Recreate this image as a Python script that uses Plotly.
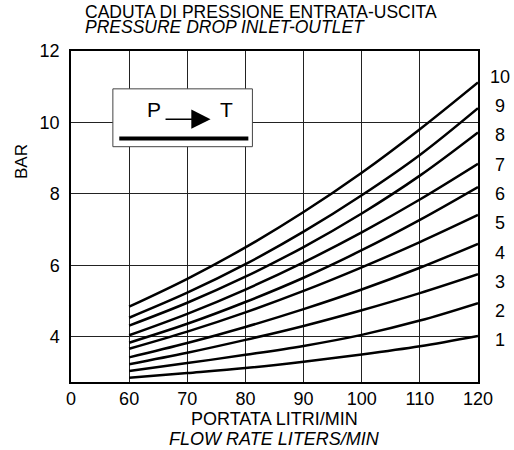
import plotly.graph_objects as go

# ---- data ----
flow = [60, 70, 80, 90, 100, 110, 120]
curve_names = ["1", "2", "3", "4", "5", "6", "7", "8", "9", "10"]
c1 = [2.85, 2.98, 3.12, 3.30, 3.50, 3.73, 4.02]
c2 = [3.04, 3.26, 3.49, 3.74, 4.05, 4.45, 4.94]
c3 = [3.23, 3.55, 3.91, 4.30, 4.74, 5.22, 5.75]
c4 = [3.42, 3.82, 4.27, 4.77, 5.32, 5.93, 6.60]
c5 = [3.66, 4.14, 4.68, 5.28, 5.94, 6.65, 7.41]
c6 = [3.83, 4.36, 4.97, 5.65, 6.42, 7.27, 8.19]
c7 = [4.04, 4.64, 5.32, 6.08, 6.92, 7.84, 8.84]
c8 = [4.31, 4.95, 5.68, 6.51, 7.45, 8.51, 9.72]
c9 = [4.53, 5.23, 6.03, 6.94, 7.96, 9.09, 10.40]
c10 = [4.84, 5.62, 6.50, 7.49, 8.59, 9.81, 11.12]
curves = [c1, c2, c3, c4, c5, c6, c7, c8, c9, c10]

x_tickvals = [50, 60, 70, 80, 90, 100, 110, 120]
x_ticktext = ["0", "60", "70", "80", "90", "100", "110", "120"]
y_tickvals = [4, 6, 8, 10, 12]

FONT = "Liberation Sans, Arial, Helvetica, sans-serif"

fig = go.Figure()
for name, ys in zip(curve_names, curves):
    fig.add_trace(go.Scatter(
        x=flow, y=ys, mode="lines", name=name,
        line=dict(color="black", width=2.5, shape="spline", smoothing=1.0),
        showlegend=False, hoverinfo="skip"))

W, H = 514, 450
ml, mr, mt, mb = 71, 36, 51, 68
pw, ph = W - ml - mr, H - mt - mb

def px2paper_y(py):
    return (H - mb - py) / ph

annotations = []
# curve labels on the right
for i, name in enumerate(reversed(curve_names)):
    annotations.append(dict(
        x=1.0, xref="paper", xshift=22, y=px2paper_y(76.7 + 29.3 * i), yref="paper",
        text=name, showarrow=False, xanchor="center", yanchor="middle",
        font=dict(size=18, color="black", family=FONT)))

# titles
annotations += [
    dict(x=(83 - ml) / pw, y=px2paper_y(12.0), xref="paper", yref="paper",
         text="CADUTA DI PRESSIONE ENTRATA-USCITA", showarrow=False,
         xanchor="left", yanchor="middle", font=dict(size=17.5, color="black", family=FONT)),
    dict(x=(83 - ml) / pw, y=px2paper_y(27.0), xref="paper", yref="paper",
         text="<i>PRESSURE DROP INLET-OUTLET</i>", showarrow=False,
         xanchor="left", yanchor="middle", font=dict(size=17.5, color="black", family=FONT)),
    dict(x=0.5, y=px2paper_y(419.0), xref="paper", yref="paper",
         text="PORTATA LITRI/MIN", showarrow=False,
         xanchor="center", yanchor="middle", font=dict(size=18, color="black", family=FONT)),
    dict(x=0.5, y=px2paper_y(438.5), xref="paper", yref="paper",
         text="<i>FLOW RATE LITERS/MIN</i>", showarrow=False,
         xanchor="center", yanchor="middle", font=dict(size=18, color="black", family=FONT)),
    dict(x=(21 - ml) / pw, y=px2paper_y(162), xref="paper", yref="paper",
         text="BAR", showarrow=False, textangle=-90,
         xanchor="center", yanchor="middle", font=dict(size=17, color="black", family=FONT)),
    # symbol box texts
    dict(x=64.2, y=10.36, xref="x", yref="y", text="P", showarrow=False,
         xanchor="center", yanchor="middle", font=dict(size=21, color="black", family=FONT)),
    dict(x=76.8, y=10.36, xref="x", yref="y", text="T", showarrow=False,
         xanchor="center", yanchor="middle", font=dict(size=21, color="black", family=FONT)),
    dict(x=74.0, y=10.09, ax=66.0, ay=10.09, xref="x", yref="y", axref="x", ayref="y",
         text="", showarrow=True, arrowhead=2, arrowsize=2.4, arrowwidth=1.6,
         arrowcolor="black"),
]

shapes = [
    dict(type="rect", xref="x", yref="y", x0=57.2, x1=81.2, y0=9.32, y1=10.94,
         fillcolor="white", line=dict(color="#444", width=1), layer="above"),
    dict(type="line", xref="x", yref="y", x0=58.3, x1=80.5, y0=9.55, y1=9.55,
         line=dict(color="black", width=4), layer="above"),
]

fig.update_layout(
    width=W, height=H,
    margin=dict(l=ml, r=mr, t=mt, b=mb, pad=0),
    paper_bgcolor="white", plot_bgcolor="white",
    font=dict(family=FONT, color="black", size=18),
    annotations=annotations, shapes=shapes,
    xaxis=dict(range=[50, 120], tickmode="array", tickvals=x_tickvals, ticktext=x_ticktext,
               showgrid=True, gridcolor="#222", gridwidth=1, zeroline=False,
               showline=True, linecolor="black", linewidth=1.5, mirror=True,
               ticks="", tickfont=dict(size=18), fixedrange=True),
    yaxis=dict(range=[2.73, 12], tickmode="array", tickvals=y_tickvals,
               showgrid=True, gridcolor="#222", gridwidth=1, zeroline=False,
               showline=True, linecolor="black", linewidth=1.5, mirror=True,
               ticks="", ticklabelstandoff=6, tickfont=dict(size=18), fixedrange=True),
)

fig.write_html("out.html", config={"displayModeBar": False},
               post_script="document.body.style.margin='0';document.body.style.overflow='hidden';")
